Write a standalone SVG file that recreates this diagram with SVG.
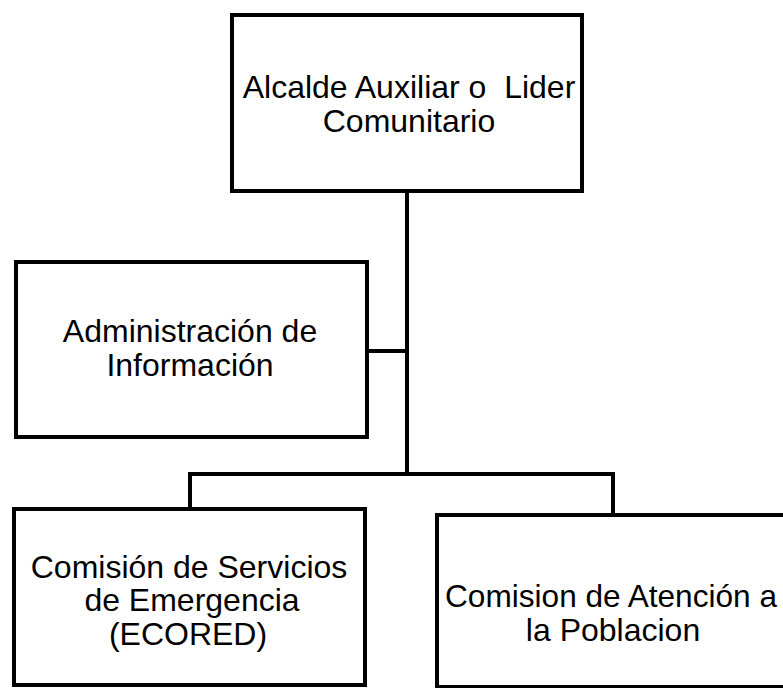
<svg xmlns="http://www.w3.org/2000/svg" width="783" height="688" viewBox="0 0 783 688">
<style>
.box{fill:#fff;stroke:#000;stroke-width:4}
.ln{fill:none;stroke:#000;stroke-width:4}
.t{font-family:"Liberation Sans",Arial,sans-serif;font-size:32px;fill:#000;text-anchor:middle}
</style>
<rect x="0" y="0" width="783" height="688" fill="#fff"/>
<g id="connectors">
<path class="ln" d="M407 191 V474"/>
<path class="ln" d="M367 351 H407"/>
<path class="ln" d="M190 509 V474 H613 V515"/>
</g>
<g id="alcalde">
<rect class="box" x="232" y="15" width="350" height="176"/>
<text class="t" x="409" y="98" xml:space="preserve">Alcalde Auxiliar o  Lider</text>
<text class="t" x="409" y="132">Comunitario</text>
</g>
<g id="administracion">
<rect class="box" x="16" y="262" width="351" height="175"/>
<text class="t" x="190" y="342">Administración de</text>
<text class="t" x="190" y="376">Información</text>
</g>
<g id="ecored">
<rect class="box" x="14" y="509" width="351" height="176"/>
<text class="t" x="189" y="578">Comisión de Servicios</text>
<text class="t" x="192" y="611">de Emergencia</text>
<text class="t" x="188" y="645">(ECORED)</text>
</g>
<g id="atencion">
<rect class="box" x="437" y="515" width="360" height="172"/>
<text class="t" x="611" y="607" textLength="332" lengthAdjust="spacingAndGlyphs">Comision de Atención a</text>
<text class="t" x="613" y="641">la Poblacion</text>
</g>
</svg>
